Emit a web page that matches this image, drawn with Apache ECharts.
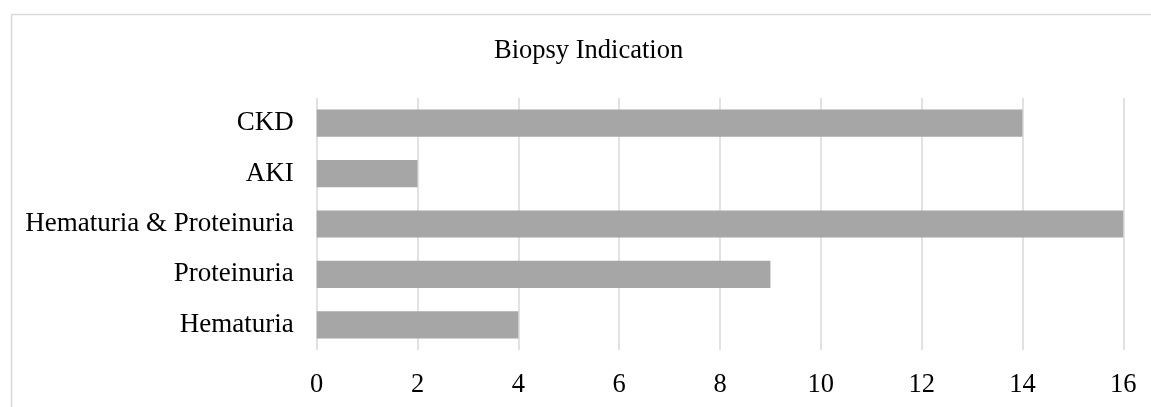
<!DOCTYPE html>
<html>
<head>
<meta charset="utf-8">
<script src="https://cdn.jsdelivr.net/npm/echarts@6/dist/echarts.min.js"></script>
<style>
html,body{margin:0;padding:0;background:#fff;}
#chart{width:1151px;height:407px;}
</style>
</head>
<body>
<div id="chart"></div>
<script>
const titleText = 'Biopsy Indication';
const categories = ['Hematuria', 'Proteinuria', 'Hematuria & Proteinuria', 'AKI', 'CKD'];
const values = [4, 9, 16, 2, 14];
const xTicks = {min: 0, max: 16, interval: 2};

const FONT = '"Liberation Serif", "Times New Roman", serif';
const chart = echarts.init(document.getElementById('chart'), null, {renderer: 'canvas'});
chart.setOption({
  animation: false,
  backgroundColor: '#ffffff',
  graphic: [{
    type: 'rect',
    shape: {x: 11.5, y: 14.5, width: 1300, height: 600},
    style: {fill: 'none', stroke: '#d9d9d9', lineWidth: 1.5},
    silent: true, z: -1
  }],
  title: {
    text: titleText,
    left: 494,
    top: 38,
    padding: 0,
    textStyle: {fontFamily: FONT, fontSize: 26.5, fontWeight: 'normal', color: '#000'}
  },
  grid: {left: 316.7, right: 27.7, top: 98, bottom: 57, containLabel: false},
  xAxis: {
    type: 'value',
    min: xTicks.min, max: xTicks.max, interval: xTicks.interval,
    axisLine: {show: false},
    axisTick: {show: false},
    splitLine: {show: true, lineStyle: {color: '#d9d9d9', width: 1.5}},
    axisLabel: {fontFamily: FONT, fontSize: 26.5, color: '#000', margin: 22}
  },
  yAxis: {
    type: 'category',
    data: categories,
    axisLine: {show: false},
    axisTick: {show: false},
    splitLine: {show: false},
    axisLabel: {fontFamily: FONT, fontSize: 27, color: '#000', margin: 23}
  },
  series: [{
    type: 'bar',
    data: values,
    barCategoryGap: '46%',
    itemStyle: {color: '#a6a6a6'}
  }]
});
</script>
</body>
</html>
